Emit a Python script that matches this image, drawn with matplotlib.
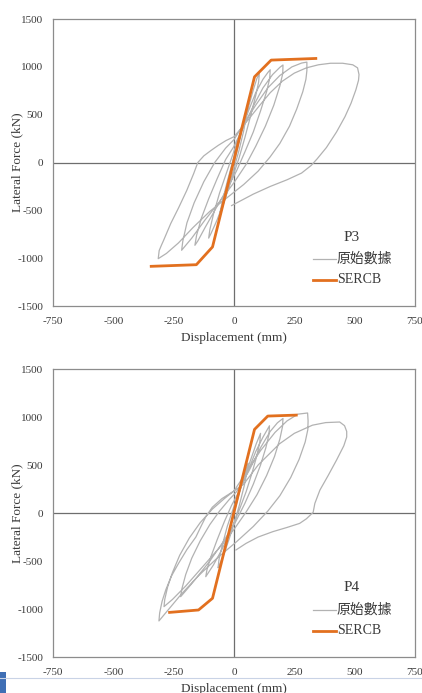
import matplotlib
matplotlib.use("Agg")
import matplotlib.pyplot as plt
from matplotlib.lines import Line2D
from matplotlib.patches import Rectangle

plt.rcParams["font.family"] = ["Liberation Serif", "Noto Sans CJK TC"]
plt.rcParams["axes.unicode_minus"] = False

# ---- data (displacement mm, force kN) ----
# P3 test record, one cycle per line
p3_x = [0, 15, 30, 45, 55, 52, 40, 20, 0, -20, -40, -55, -62, -58, -45, -25, 0, 20,
        40, 60, 80, 95, 105, 102, 90, 70, 45, 20, -10, -40, -70, -95, -105, -100, -85, -60, -30, 0, 30,
        60, 90, 120, 140, 150, 148, 135, 110, 80, 45, 10, -30, -75, -120, -150, -162, -155, -135, -105, -70, -35, 0, 40,
        80, 120, 160, 190, 203, 202, 190, 165, 130, 90, 50, 0, -60, -120, -175, -217, -212, -195, -165, -125, -80, -35, 0, 40,
        90, 140, 190, 240, 280, 302, 302, 298, 285, 260, 230, 190, 150, 100, 40, -30, -100, -170, -230, -280, -314,
        -310, -300, -292, -262, -229, -196, -167, -150, -125, -96, -65, -33, 0,
        50, 104, 150, 200, 250, 300, 350, 400, 450, 492, 512, 518, 516,
        505, 485, 460, 425, 383, 345, 320, 280, 220, 150, 80, 20, -10]
p3_y = [0, 150, 320, 480, 580, 500, 330, 120, -60, -230, -400, -530, -600, -520, -370, -170, 60, 220,
        400, 580, 760, 880, 930, 840, 700, 500, 260, 40, -180, -400, -600, -740, -790, -700, -540, -320, -100, 120, 330,
        540, 730, 870, 940, 970, 880, 740, 540, 320, 110, -90, -280, -480, -680, -820, -865, -760, -580, -380, -170, 30, 170, 380,
        590, 780, 920, 995, 1020, 930, 800, 600, 380, 170, -20, -210, -410, -600, -790, -917, -820, -630, -420, -200, 0, 150, 240, 400,
        600, 780, 910, 1000, 1040, 1050, 960, 870, 740, 560, 380, 200, 60, -90, -230, -370, -510, -680, -840, -950, -1005,
        -920, -860, -815, -637, -470, -293, -115, 0, 70, 125, 180, 230, 270,
        420, 590, 730, 850, 935, 990, 1022, 1038, 1038, 1022, 990, 920, 860,
        760, 620, 480, 320, 157, 40, -30, -110, -180, -250, -330, -410, -450]

# P3 SERCB model
p3_model_x = [-343, -156, -89, 85, 154, 339]
p3_model_y = [-1085, -1068, -882, 896, 1071, 1088]

# P4 test record, one cycle per line
p4_x = [0, 15, 30, 45, 58, 55, 42, 22, 0, -20, -42, -60, -66, -62, -48, -28, 0, 20,
        45, 70, 92, 110, 107, 95, 75, 50, 20, -15, -50, -85, -117, -112, -95, -70, -40, -10, 20,
        60, 90, 120, 147, 145, 132, 110, 80, 45, 5, -45, -100, -160, -200, -221, -216, -200, -175, -140, -100, -60, -20, 10,
        60, 110, 150, 180, 203, 201, 190, 168, 135, 95, 50, 0, -60, -130, -200, -255, -290, -287, -275, -255, -225, -185, -140, -90, -40, 0,
        50, 110, 170, 220, 265, 305, 307, 306, 295, 270, 235, 190, 140, 80, 10, -70, -150, -220, -270, -311,
        -308, -298, -283, -260, -229, -195, -158, -135, -117, -90, -50, 0, 40,
        100, 188, 250, 325, 380, 438, 458, 467, 467,
        455, 425, 390, 356, 335, 328, 300, 272, 220, 161, 100, 50, 8]
p4_y = [0, 140, 290, 420, 520, 440, 280, 80, -110, -270, -430, -540, -570, -480, -330, -140, 70, 200,
        380, 560, 720, 830, 740, 600, 420, 220, 20, -190, -380, -540, -663, -590, -450, -280, -90, 80, 220,
        450, 640, 790, 909, 820, 680, 500, 300, 100, -100, -300, -500, -690, -810, -871, -790, -640, -470, -290, -120, 20, 140, 220,
        430, 680, 850, 940, 985, 900, 770, 590, 390, 190, 10, -170, -360, -560, -760, -900, -975, -900, -770, -620, -440, -260, -100, 40, 150, 230,
        420, 650, 840, 960, 1030, 1042, 960, 870, 740, 560, 370, 180, 20, -140, -300, -470, -660, -850, -1000, -1124,
        -1040, -920, -802, -660, -521, -380, -250, -130, -40, 60, 150, 230, 300,
        500, 720, 830, 915, 942, 948, 910, 850, 792,
        700, 552, 390, 239, 100, 7, -60, -108, -150, -194, -250, -316, -385]

# P4 SERCB model
p4_model_x = [-267, -147, -89, 85, 140, 258]
p4_model_y = [-1035, -1010, -888, 871, 1010, 1020]

panels = [("P3", p3_x, p3_y, p3_model_x, p3_model_y),
          ("P4", p4_x, p4_y, p4_model_x, p4_model_y)]

gray = "#b2b2b2"
orange = "#e2701f"
txt = "#3a3a3a"

fig = plt.figure(figsize=(4.22, 6.93), dpi=100)
boxes = [[0.1256, 0.5584, 0.8578, 0.4141], [0.1256, 0.0519, 0.8578, 0.4156]]

for box, (name, gx, gy, mx, my) in zip(boxes, panels):
    ax = fig.add_axes(box)
    ax.axhline(0, color="#6e6e6e", lw=0.9, zorder=1)
    ax.axvline(0, color="#6e6e6e", lw=0.9, zorder=1)
    ax.plot(gx, gy, color=gray, lw=0.9, zorder=2)
    ax.plot(mx, my, color=orange, lw=2.0, zorder=3)
    ax.set_xlim(-750, 750)
    ax.set_ylim(-1500, 1500)
    ax.set_xticks(range(-750, 751, 250))
    ax.set_yticks(range(-1500, 1501, 500))
    ax.tick_params(axis="y", length=0, labelsize=8, colors=txt, pad=7)
    ax.tick_params(axis="x", length=0, labelsize=8, colors=txt, pad=8)
    for s in ax.spines.values():
        s.set_color("#8c8c8c")
        s.set_linewidth(0.9)
    ax.set_xlabel("Displacement (mm)", fontsize=9.5, color=txt)
    ax.set_ylabel("Lateral Force (kN)", fontsize=9.5, color=txt)
    ax.xaxis.set_label_coords(0.5, -0.09)
    ax.yaxis.set_label_coords(-0.083, 0.5)

    # legend block
    ax.text(0.826, 0.240, name, transform=ax.transAxes, ha="center", va="center",
            fontsize=11, color=txt)
    ax.add_line(Line2D([0.718, 0.782], [0.164, 0.164], transform=ax.transAxes,
                       color=gray, lw=0.9))
    ax.add_line(Line2D([0.718, 0.782], [0.091, 0.091], transform=ax.transAxes,
                       color=orange, lw=2.0))
    ax.text(0.784, 0.164, "原始數據", transform=ax.transAxes, va="center",
            fontsize=10, color=txt)
    ax.text(0.784, 0.091, "SERCB", transform=ax.transAxes, va="center",
            fontsize=10, color=txt)

# screenshot edge at the very bottom
fig.add_artist(Line2D([0, 1], [0.0217, 0.0217], color="#c9d3e6", lw=0.8))
fig.add_artist(Rectangle((0, 0), 0.014, 0.03, color="#3f6fb5", lw=0))

fig.savefig("out.png", dpi=100)
